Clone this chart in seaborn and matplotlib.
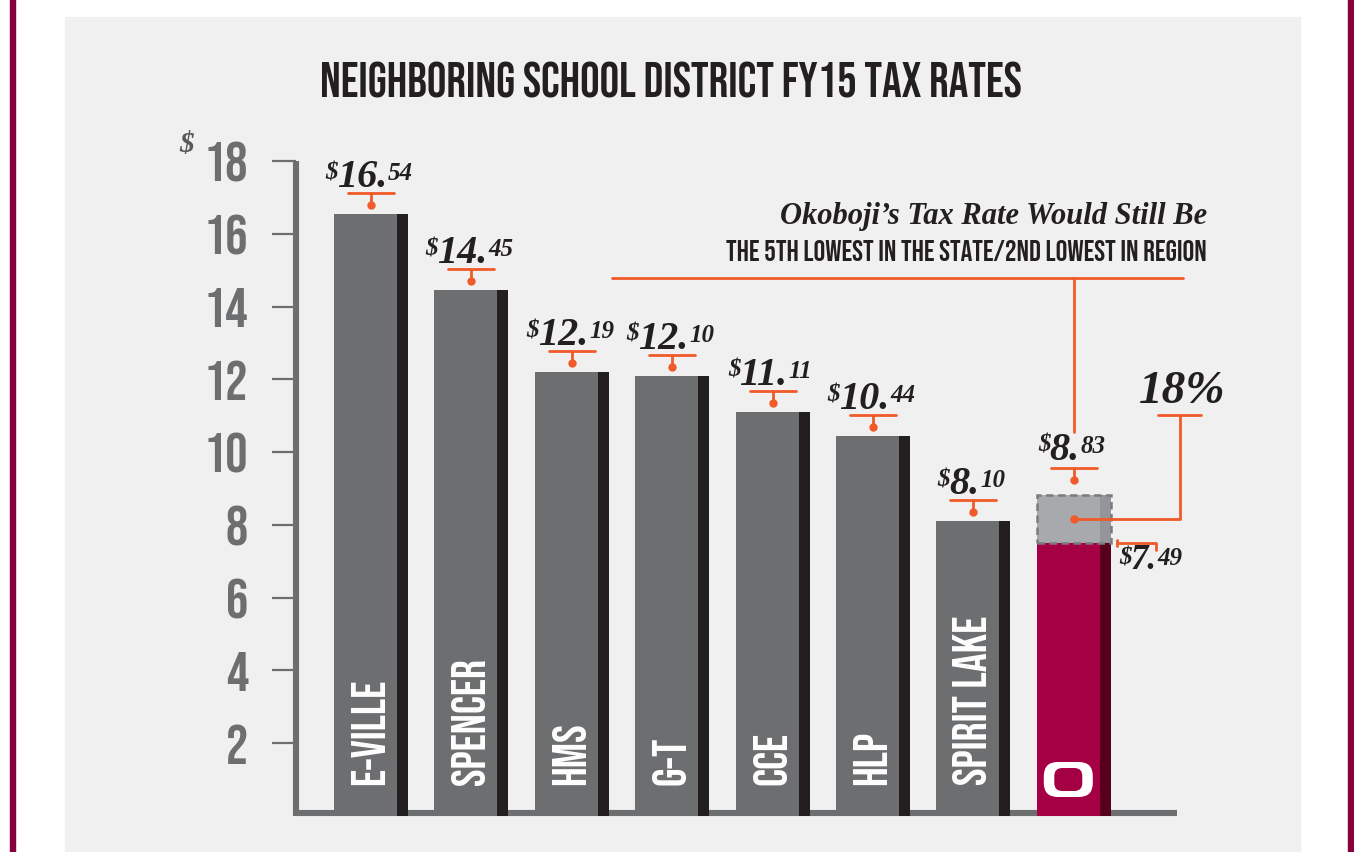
import matplotlib
matplotlib.use("Agg")
import matplotlib.pyplot as plt
import seaborn as sns
import pandas as pd
from matplotlib import font_manager
from matplotlib.patches import Rectangle, FancyBboxPatch

# chart data
districts = ["E-VILLE", "SPENCER", "HMS", "G-T", "CCE", "HLP", "SPIRIT LAKE", "OKOBOJI"]
tax_rates = [16.54, 14.45, 12.19, 12.10, 11.11, 10.44, 8.10, 7.49]
okoboji_would_be = 8.83
change_label = "18%"
y_ticks = [2, 4, 6, 8, 10, 12, 14, 16, 18]

title = "NEIGHBORING SCHOOL DISTRICT FY15 TAX RATES"
note_1 = "Okoboji\u2019s Tax Rate Would Still Be"
note_2 = "THE 5TH LOWEST IN THE STATE/2ND LOWEST IN REGION"

# colours
PANEL = "#f0f0f0"
GRAY = "#6d6e70"
DARK = "#231f20"
CRIMSON = "#a50044"
CRIMSON_DARK = "#58001b"
LIGHT = "#a7a9ac"
LIGHT_SIDE = "#939598"
ORANGE = "#f15a29"
FRAME = "#87003a"

sns.set_style("white")
names = {f.name for f in font_manager.fontManager.ttflist}
COND = next((n for n in ["Bebas Neue", "Oswald", "Liberation Sans Narrow", "DejaVu Sans Condensed",
                         "Roboto Condensed", "Open Sans Condensed", "Roboto"] if n in names), "DejaVu Sans")
SERIF = "Liberation Serif" if "Liberation Serif" in names else "DejaVu Serif"
plt.rcParams["font.family"] = [COND, "DejaVu Sans"]
serif_bi = dict(fontfamily=SERIF, fontstyle="italic", fontweight="bold", color=DARK)

W, H = 1354, 853
fig = plt.figure(figsize=(W / 100, H / 100), dpi=100)
fig.patch.set_facecolor("white")
fig.patches.append(Rectangle((65 / W, 0), (1300 - 65) / W, (H - 18) / H,
                             transform=fig.transFigure, color=PANEL, zorder=-2))
fig.patches.append(Rectangle((10 / W, 0), 5 / W, 1, transform=fig.transFigure, color=FRAME, zorder=-2))
fig.patches.append(Rectangle((1348 / W, 0), 6 / W, 1, transform=fig.transFigure, color=FRAME, zorder=-2))

ax = fig.add_axes([296 / W, (H - 817) / H, (1177 - 296) / W, (817 - 162) / H])
ax.set_facecolor("none")

XPX = 100.4              # pixels per bar slot
YPX = (817 - 162) / 18   # pixels per dollar
FACE_W = 63 / XPX
SIDE_W = 11 / XPX
side_x = FACE_W / 2 + SIDE_W / 2
full_c = SIDE_W / 2      # centre of face+side relative to face centre

df = pd.DataFrame({"district": districts, "rate": tax_rates})
colors = [GRAY] * 7 + [CRIMSON]
sns.barplot(data=df, x="district", y="rate", hue="district", palette=colors, width=FACE_W,
            saturation=1, legend=False, ax=ax, zorder=3, linewidth=0, edgecolor="none")
xs = list(range(len(districts)))
ax.bar([x + side_x for x in xs], tax_rates, width=SIDE_W,
       color=[DARK] * 7 + [CRIMSON_DARK], zorder=3, linewidth=0)

# Okoboji's would-be portion
ok = len(districts) - 1
extra = okoboji_would_be - tax_rates[ok]
ax.bar(ok, extra, bottom=tax_rates[ok], width=FACE_W, color=LIGHT, zorder=3, linewidth=0)
ax.bar(ok + side_x, extra, bottom=tax_rates[ok], width=SIDE_W, color=LIGHT_SIDE, zorder=3,
       linewidth=0)
ax.bar(ok + full_c, extra, bottom=tax_rates[ok], width=FACE_W + SIDE_W, fill=False,
       edgecolor="#7a7b7d", linewidth=1.8, linestyle=(0, (3, 1.8)), zorder=4)

ax.set_xlim(-69.5 / XPX, (1177 - 365.5) / XPX)
ax.set_ylim(0, 18)
ax.set_xticks([])
ax.set_xlabel("")
ax.set_ylabel("")
ax.set_yticks(y_ticks, labels=[str(t) for t in y_ticks], fontsize=40,
              color=GRAY, fontfamily=[COND, "DejaVu Sans"])
ax.tick_params(axis="y", left=True, direction="out", length=17.5, width=1.6, color=GRAY, pad=17)
for s in ["top", "right"]:
    ax.spines[s].set_visible(False)
for s in ["left", "bottom"]:
    ax.spines[s].set_color(GRAY)
    ax.spines[s].set_linewidth(4.4)
    ax.spines[s].set_capstyle("butt")
ax.spines["bottom"].set_position(("outward", -2.2))
ax.spines["bottom"].set_zorder(2)
ax.annotate("$", xy=(0, 18), xycoords=("axes fraction", "data"), xytext=(-117, 4),
            textcoords="offset pixels", fontsize=21, ha="left", va="bottom",
            **{**serif_bi, "color": "#58595b"})


def price_label(xc, top, dy, big=29, small=18, shift=-9):
    d, c = f"{top:.2f}".split(".")
    main = ax.annotate(d + ".", xy=(xc, top), xytext=(shift, dy), textcoords="offset pixels",
                       ha="center", va="baseline", fontsize=big, annotation_clip=False, **serif_bi)
    ax.annotate("$", xy=(0, 1), xycoords=main, xytext=(1, -2), textcoords="offset pixels",
                ha="right", va="top", fontsize=small, annotation_clip=False, **serif_bi)
    ax.annotate(c, xy=(1, 1), xycoords=main, xytext=(1, -3), textcoords="offset pixels",
                ha="left", va="top", fontsize=small, annotation_clip=False, **serif_bi)


def value_marker(x, top, lab_off, bar_off, dot_off):
    xc = x + full_c
    price_label(xc, top, lab_off)
    yb = top + bar_off / YPX
    ax.plot([xc - 23 / XPX, xc + 23 / XPX], [yb, yb], color=ORANGE, lw=2, clip_on=False, zorder=5)
    ax.plot([xc, xc], [yb, top + dot_off / YPX], color=ORANGE, lw=2, clip_on=False, zorder=5)
    ax.plot([xc], [top + dot_off / YPX], "o", color=ORANGE, ms=5, clip_on=False, zorder=5)


for i in xs[:-1]:
    value_marker(i, tax_rates[i], 28, 21, 9)
    ax.text(i + 2 / XPX, 32 / YPX, districts[i], rotation=90, ha="center", va="bottom",
            color="white", fontsize=34, zorder=6)
value_marker(ok, okoboji_would_be, 36, 27, 15)

# Okoboji logo
okx = ok
ax.add_patch(FancyBboxPatch((okx - 24.5 / XPX, 19 / YPX), 49 / XPX, 35 / YPX,
                            boxstyle="round,pad=0,rounding_size=%f" % (14 / XPX),
                            mutation_aspect=XPX / YPX, fc="white", ec="none", zorder=6))
ax.add_patch(FancyBboxPatch((okx - 14 / XPX, 25 / YPX), 28 / XPX, 23 / YPX,
                            boxstyle="round,pad=0,rounding_size=%f" % (8 / XPX),
                            mutation_aspect=XPX / YPX, fc=CRIMSON, ec="none", zorder=7))

# current rate callout
okc = ok + full_c
cur = tax_rates[ok]
x_l, x_r = okc + (1117 - 1074) / XPX, okc + (1156 - 1074) / XPX
ax.plot([x_l, x_r, x_r], [cur, cur, cur - 7 / YPX], color=ORANGE, lw=2, clip_on=False, zorder=5)
ax.plot([x_l, x_l], [cur - 3 / YPX, cur + 3 / YPX], color=ORANGE, lw=2, clip_on=False, zorder=5)
price_label(okc + (1153 - 1074) / XPX, cur, -25, big=25, small=18, shift=-9)

# 18% callout
mid = (cur + okoboji_would_be) / 2
xv = okc + (1180 - 1074) / XPX
ytop = mid + (521 - 417) / YPX
ax.plot([okc, xv, xv], [mid, mid, ytop], color=ORANGE, lw=2, clip_on=False, zorder=5)
ax.plot([okc + (1158 - 1074) / XPX, okc + (1201 - 1074) / XPX], [ytop, ytop], color=ORANGE, lw=2,
        clip_on=False, zorder=5)
ax.plot([okc], [mid], "o", color=ORANGE, ms=5, clip_on=False, zorder=6)
ax.text(xv + 2 / XPX, ytop + 13 / YPX, change_label, ha="center", va="baseline", fontsize=34,
        **serif_bi)

# "would still be" note
yh = okoboji_would_be + (496 - 279) / YPX
ax.plot([okc, okc], [okoboji_would_be + (496 - 433) / YPX, yh], color=ORANGE, lw=2, clip_on=False)
ax.plot([(612 - 365.5) / XPX, (1183 - 365.5) / XPX], [yh, yh], color=ORANGE, lw=2, clip_on=False)
fig.text(1207 / W, 1 - 224 / H, note_1, ha="right", va="baseline", fontsize=22, **serif_bi)
fig.text(1207 / W, 1 - 261 / H, note_2, ha="right", va="baseline", fontsize=21, color=DARK)

fig.text(671 / W, 1 - 97 / H, title, ha="center", va="baseline", fontsize=35, color=DARK)

fig.savefig("out.png", dpi=100)
